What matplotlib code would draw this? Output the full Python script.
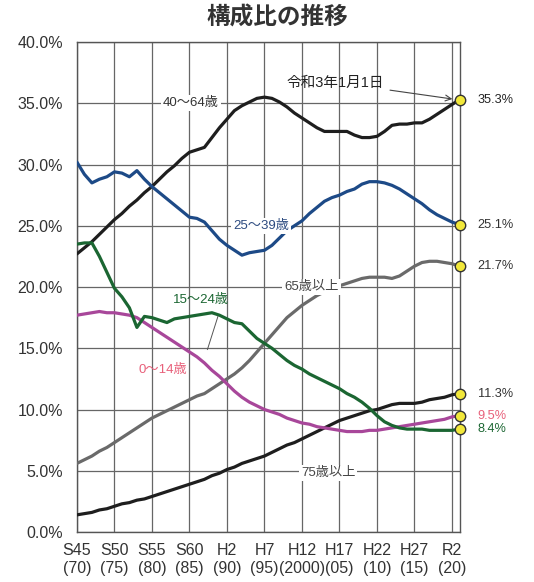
import matplotlib
matplotlib.use("Agg")
import matplotlib.pyplot as plt
import numpy as np

plt.rcParams['font.family'] = ['Liberation Sans', 'Noto Sans CJK JP', 'DejaVu Sans']

# years 1970 .. 2021 (each Jan 1)
years = np.arange(1970, 2022)

# share of population by age group, %
age_40_64 = [22.7, 23.2, 23.7, 24.3, 24.9, 25.5, 26.0, 26.6, 27.1, 27.7,
             28.2, 28.8, 29.4, 29.9, 30.5, 31.0, 31.2, 31.4, 32.2, 33.0,
             33.7, 34.4, 34.8, 35.1, 35.4, 35.5, 35.4, 35.1, 34.7, 34.2,
             33.8, 33.4, 33.0, 32.7, 32.7, 32.7, 32.7, 32.4, 32.2, 32.2,
             32.3, 32.7, 33.2, 33.3, 33.3, 33.4, 33.4, 33.7, 34.1, 34.5,
             34.9, 35.3]
age_25_39 = [30.2, 29.2, 28.5, 28.8, 29.0, 29.4, 29.3, 29.0, 29.5, 28.8,
             28.2, 27.7, 27.2, 26.7, 26.2, 25.7, 25.6, 25.3, 24.6, 23.9,
             23.4, 23.0, 22.6, 22.8, 22.9, 23.0, 23.4, 24.0, 24.6, 25.0,
             25.4, 26.0, 26.5, 27.0, 27.3, 27.5, 27.8, 28.0, 28.4, 28.6,
             28.6, 28.5, 28.3, 28.0, 27.6, 27.2, 26.8, 26.3, 25.9, 25.6,
             25.3, 25.1]
age_65_up = [5.6, 5.9, 6.2, 6.6, 6.9, 7.3, 7.7, 8.1, 8.5, 8.9,
             9.3, 9.6, 9.9, 10.2, 10.5, 10.8, 11.1, 11.3, 11.7, 12.1,
             12.5, 12.9, 13.4, 14.0, 14.7, 15.4, 16.1, 16.8, 17.5, 18.0,
             18.5, 18.9, 19.3, 19.6, 19.9, 20.1, 20.3, 20.5, 20.7, 20.8,
             20.8, 20.8, 20.7, 20.9, 21.3, 21.7, 22.0, 22.1, 22.1, 22.0,
             21.9, 21.7]
age_15_24 = [23.5, 23.6, 23.6, 22.5, 21.2, 19.9, 19.2, 18.3, 16.7, 17.6,
             17.5, 17.3, 17.1, 17.4, 17.5, 17.6, 17.7, 17.8, 17.9, 17.7,
             17.4, 17.1, 17.0, 16.4, 15.8, 15.4, 15.0, 14.5, 14.0, 13.6,
             13.3, 12.9, 12.6, 12.3, 12.0, 11.7, 11.3, 11.0, 10.6, 10.1,
             9.5, 9.0, 8.7, 8.5, 8.4, 8.4, 8.4, 8.3, 8.3, 8.3,
             8.3, 8.4]
age_0_14 = [17.7, 17.8, 17.9, 18.0, 17.9, 17.9, 17.8, 17.7, 17.5, 17.1,
            16.7, 16.3, 15.9, 15.5, 15.1, 14.7, 14.3, 13.8, 13.2, 12.7,
            12.1, 11.5, 11.0, 10.6, 10.3, 10.0, 9.8, 9.6, 9.3, 9.1,
            8.9, 8.8, 8.6, 8.5, 8.4, 8.3, 8.2, 8.2, 8.2, 8.3,
            8.3, 8.4, 8.5, 8.6, 8.7, 8.8, 8.9, 9.0, 9.1, 9.2,
            9.4, 9.5]
age_75_up = [1.4, 1.5, 1.6, 1.8, 1.9, 2.1, 2.3, 2.4, 2.6, 2.7,
             2.9, 3.1, 3.3, 3.5, 3.7, 3.9, 4.1, 4.3, 4.6, 4.8,
             5.1, 5.3, 5.6, 5.8, 6.0, 6.2, 6.5, 6.8, 7.1, 7.3,
             7.6, 7.9, 8.2, 8.5, 8.8, 9.1, 9.3, 9.5, 9.7, 9.9,
             10.0, 10.2, 10.4, 10.5, 10.5, 10.5, 10.6, 10.8, 10.9, 11.0,
             11.2, 11.3]

tick_years = np.arange(1970, 2021, 5)
tick_labels = ["S45\n(70)", "S50\n(75)", "S55\n(80)", "S60\n(85)", "H2\n(90)",
               "H7\n(95)", "H12\n(2000)", "H17\n(05)", "H22\n(10)", "H27\n(15)",
               "R2\n(20)"]

pink_txt = '#e8607a'
series = [
    (age_40_64, '#1e1e1e', '#222222'),
    (age_25_39, '#1d4a87', '#333333'),
    (age_65_up, '#6a6a6a', '#333333'),
    (age_75_up, '#1e1e1e', '#333333'),
    (age_0_14, '#a8479a', pink_txt),
    (age_15_24, '#1b6632', '#1b6632'),
]

fig = plt.figure(figsize=(5.34, 5.82), dpi=100)
ax = fig.add_axes([0.144, 0.0859, 0.7165, 0.8419])

for vals, col, tcol in series:
    ax.plot(years, vals, color=col, lw=2.3, solid_capstyle='round', zorder=3)
    ax.plot(years[-1], vals[-1], 'o', ms=7.5, mfc='#f2e83a', mec='#333333',
            mew=1.0, zorder=5, clip_on=False)
    ax.annotate(f"{vals[-1]:.1f}%", (years[-1], vals[-1]), xytext=(13, 0),
                textcoords='offset points', va='center', ha='left',
                fontsize=9.2, color=tcol, annotation_clip=False)

ax.set_xlim(1970, 2021)
ax.set_ylim(0, 40)
ax.set_xticks(tick_years)
ax.set_xticklabels(tick_labels, fontsize=11.5, color='#333333', linespacing=1.2)
ax.set_yticks(np.arange(0, 41, 5))
ax.set_yticklabels([f"{v:.1f}%" for v in np.arange(0, 41, 5)], fontsize=11.5,
                   color='#333333')
ax.tick_params(axis='y', length=0, pad=10)
ax.tick_params(axis='x', length=0, pad=8)
ax.grid(True, color='#666666', lw=0.9)
ax.set_axisbelow(True)
for s in ax.spines.values():
    s.set_color('#555555')
    s.set_linewidth(1.0)

box = dict(boxstyle='square,pad=0.15', fc='white', ec='none')
ax.text(1985.2, 35.0, "40～64歳", fontsize=9.5, color='#333333',
        ha='center', va='center', bbox=box, zorder=4)
ax.text(1994.6, 25.0, "25～39歳", fontsize=9.5, color='#2d4b80',
        ha='center', va='center', bbox=box, zorder=4)
ax.text(2001.3, 20.0, "65歳以上", fontsize=9.5, color='#444444',
        ha='center', va='center', bbox=box, zorder=4)
ax.text(2003.5, 4.8, "75歳以上", fontsize=9.5, color='#444444',
        ha='center', va='center', bbox=box, zorder=4)
ax.text(1986.5, 18.9, "15～24歳", fontsize=9.5, color='#1b6632',
        ha='center', va='center', zorder=4)
ax.text(1981.5, 13.2, "0～14歳", fontsize=9.5, color=pink_txt,
        ha='center', va='center', zorder=4)
ax.plot([1988.8, 1987.4], [17.6, 14.9], color='#555555', lw=0.7, zorder=4)
ax.annotate("令和3年1月1日", xy=(2020.6, 35.3), xytext=(2004.5, 36.7),
            fontsize=10.5, color='#222222', ha='center', va='center',
            arrowprops=dict(arrowstyle='->', color='#444444', lw=0.8,
                            shrinkA=2, shrinkB=3), zorder=6)

fig.text(0.519, 0.969, "構成比の推移", fontsize=17, fontweight='bold',
         ha='center', va='center', color='#333333')

fig.savefig("out.png", dpi=100)
